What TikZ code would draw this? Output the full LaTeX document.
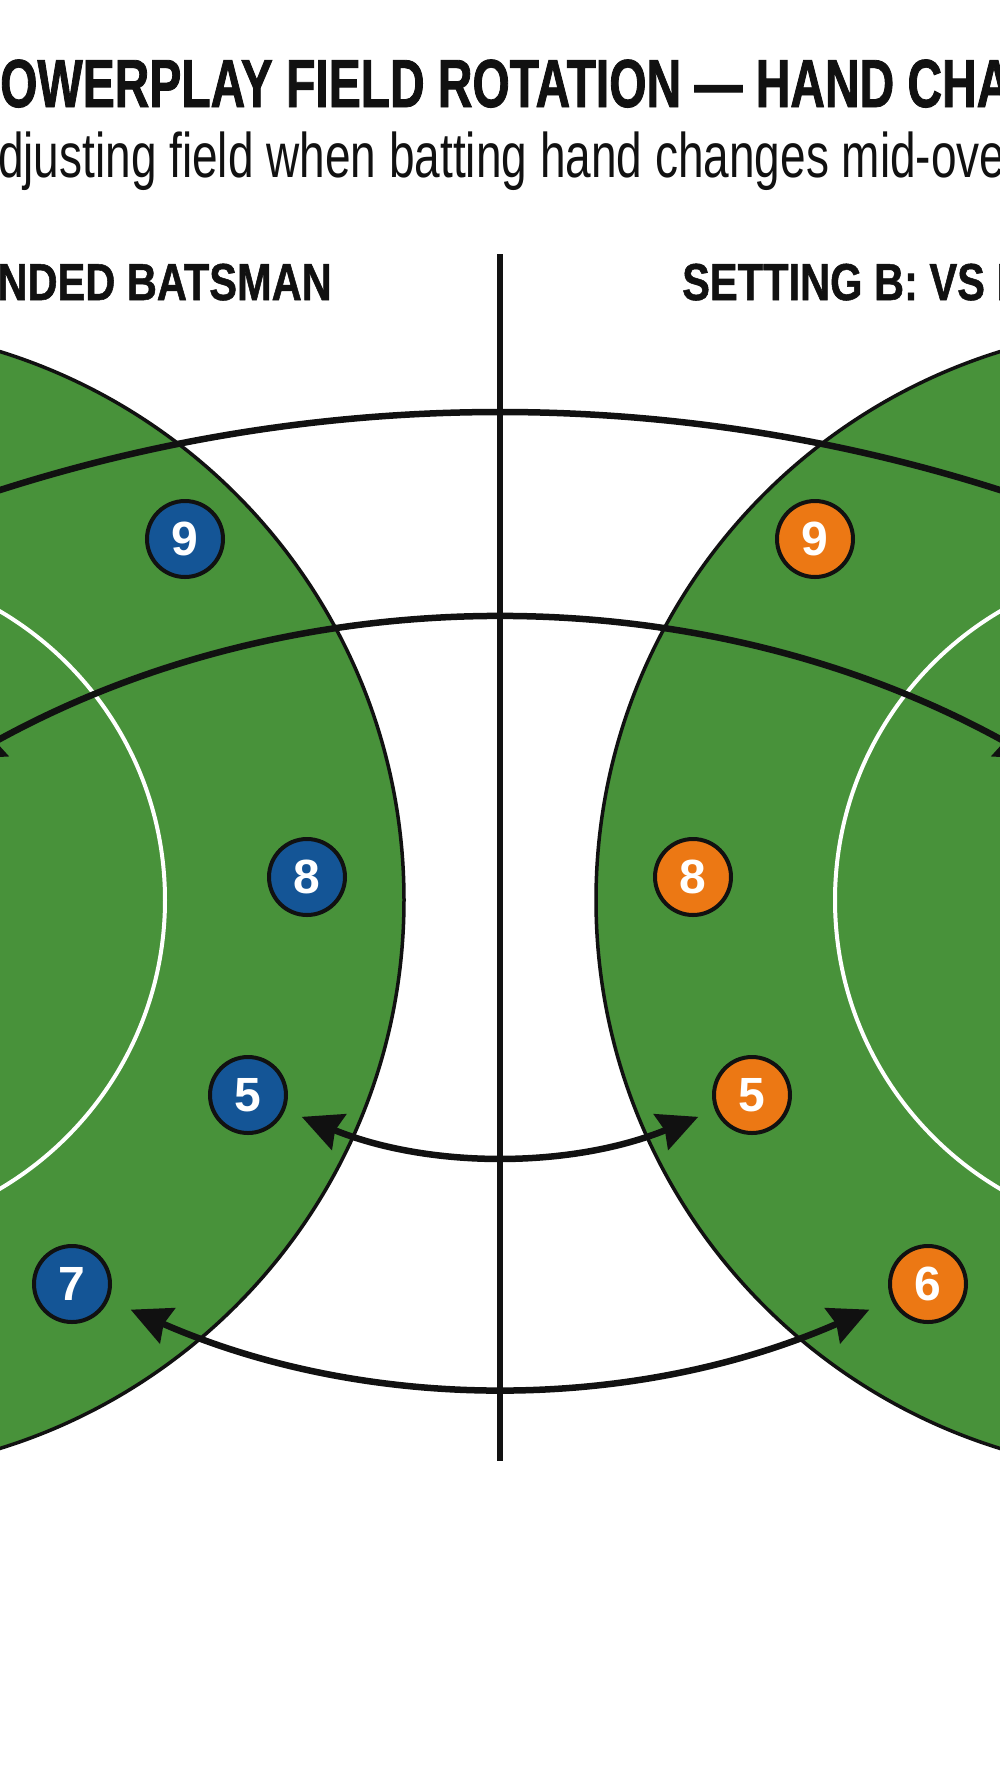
\documentclass[tikz,border=0pt]{standalone}
\usepackage{fontspec}
\usetikzlibrary{arrows.meta}
\newfontfamily\titlefont{Liberation Sans}[FakeStretch=0.705,FakeBold=1.2]
\newfontfamily\subfont{Liberation Sans}[FakeStretch=0.73]
\newfontfamily\headfont{Liberation Sans}[FakeStretch=0.80,FakeBold=1]
\newfontfamily\digitfont{Liberation Sans}
\definecolor{fieldgreen}{RGB}{72,146,58}
\definecolor{pblue}{RGB}{20,85,150}
\definecolor{porange}{RGB}{236,120,20}
\definecolor{ink}{RGB}{17,17,17}
\tikzset{
  field/.style={fill=fieldgreen, draw=ink, line width=3.5pt},
  ring/.style={draw=white, line width=4pt},
  disk/.style={circle, draw=ink, line width=4pt, minimum size=76pt, inner sep=0pt,
    text=white, font=\digitfont\bfseries\fontsize{48}{48}\selectfont},
  bluedisk/.style={disk, fill=pblue},
  orangedisk/.style={disk, fill=porange},
  arcline/.style={draw=ink, line width=6.5pt},
  dbl/.style={{Stealth[length=40pt,width=38pt,inset=4pt]}-{Stealth[length=40pt,width=38pt,inset=4pt]}},
  divider/.style={draw=ink, line width=6pt},
  txt/.style={inner sep=0pt, text=ink}
}
\begin{document}
\begin{tikzpicture}[x=1pt,y=-1pt]
\useasboundingbox (0,0) rectangle (1000,1792);
\fill[white] (0,0) rectangle (1000,1792);
\clip (0,0) rectangle (1000,1792);

% fields
\path[field] (-170,900) circle[radius=574];
\path[field] (1170,900) circle[radius=574];
\path[ring] (-170,900) circle[radius=335];
\path[ring] (1170,900) circle[radius=335];

% texts
\node[txt, anchor=base west, font=\titlefont\bfseries\fontsize{68}{70}\selectfont] (title) at (0,107) {OWERPLAY FIELD ROTATION — HAND CHA};
\node[txt, anchor=base west, font=\subfont\fontsize{63}{66}\selectfont] (subtitle) at (-2,177) {djusting field when batting hand changes mid-ove};
\node[txt, anchor=base east, font=\headfont\bfseries\fontsize{52}{54}\selectfont] (headA) at (332,300) {NDED BATSMAN};
\node[txt, anchor=base west, font=\headfont\bfseries\fontsize{52}{54}\selectfont] (headB) at (682,300) {SETTING B: VS L};

% disks
\node[bluedisk] (L9) at (185,539) {9};
\node[bluedisk] (L8) at (307,877) {8};
\node[bluedisk] (L5) at (248,1095) {5};
\node[bluedisk] (L7) at (72,1284) {7};
\node[orangedisk] (R9) at (815,539) {9};
\node[orangedisk] (R8) at (693,877) {8};
\node[orangedisk] (R5) at (752,1095) {5};
\node[orangedisk] (R6) at (928,1284) {6};

% connectors
\coordinate (topL) at (-50.5,507.1);
\coordinate (topR) at (1050.5,507.1);
\draw[arcline] (topL) .. controls (305.5,380.3) and (694.5,380.3) .. (topR);
\coordinate (midL) at (-36,758.9);
\coordinate (midR) at (1036,758.9);
\draw[arcline, dbl] (midL) .. controls (297.3,573.8) and (702.7,573.8) .. (midR);
\draw[arcline, dbl, shorten <=18pt, shorten >=18pt] (L5) .. controls (429.4,1168.7) and (570.6,1168.7) .. (R5);
\draw[arcline, dbl, shorten <=24pt, shorten >=24pt] (L7) .. controls (367.3,1413) and (632.7,1413) .. (R6);

% divider
\coordinate (dtop) at (500,254);
\coordinate (dbot) at (500,1461);
\draw[divider] (dtop) -- (dbot);
\end{tikzpicture}
\end{document}
